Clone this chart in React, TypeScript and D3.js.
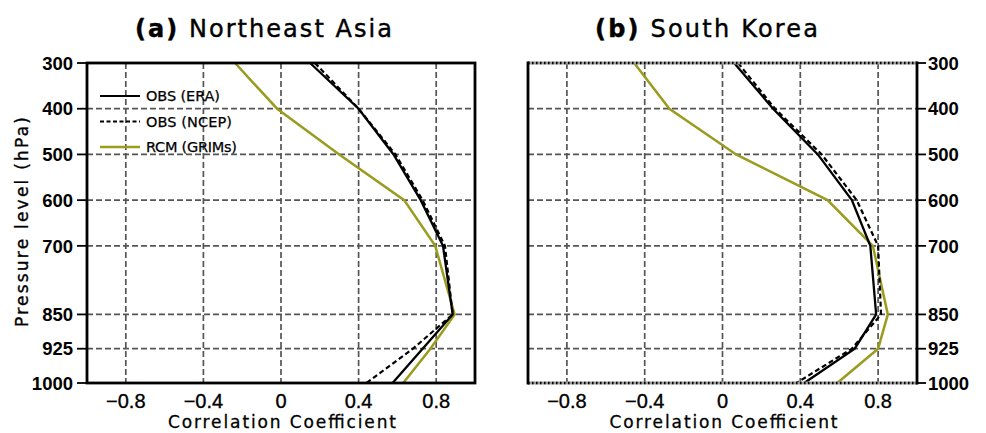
import React from "react";
import * as d3 from "d3";

const levels = [300, 400, 500, 600, 700, 850, 925, 1000];
const levelTicks = [300, 400, 500, 600, 700, 850, 925, 1000];
const gridLevels = [400, 500, 600, 700, 850, 925];
const corrTicks = [-0.8, -0.4, 0, 0.4, 0.8];
const corrTickLabels = ["\u22120.8", "\u22120.4", "0", "0.4", "0.8"];

const neAsiaERA = [0.15, 0.4, 0.58, 0.72, 0.835, 0.885, 0.73, 0.575];
const neAsiaNCEP = [0.175, 0.4, 0.59, 0.73, 0.845, 0.885, 0.68, 0.44];
const neAsiaGRIMs = [-0.237, -0.02, 0.3, 0.635, 0.795, 0.895, 0.77, 0.63];

const koreaERA = [0.06, 0.26, 0.49, 0.665, 0.76, 0.79, 0.68, 0.42];
const koreaNCEP = [0.08, 0.27, 0.51, 0.69, 0.8, 0.815, 0.665, 0.38];
const koreaGRIMs = [-0.454, -0.273, 0.07, 0.54, 0.773, 0.85, 0.8, 0.59];

const seriesNames = ["OBS (ERA)", "OBS (NCEP)", "RCM (GRIMs)"];
const GREEN = "#9a9b1f";
const GRID = "#555";

type PanelProps = {
  x0: number;
  x1: number;
  era: number[];
  ncep: number[];
  grims: number[];
  side: "left" | "right";
  dottedFrame: boolean;
  legend: boolean;
};

const Y0 = 63;
const Y1 = 383;

function Panel({ x0, x1, era, ncep, grims, side, dottedFrame, legend }: PanelProps) {
  const x = d3.scaleLinear().domain([-1, 1]).range([x0, x1]);
  const y = d3.scaleLinear().domain([300, 1000]).range([Y0, Y1]);
  const mk = (vals: number[]) =>
    d3
      .line<number>()
      .x((d) => x(d))
      .y((_, i) => y(levels[i]))(vals) || "";

  return (
    <g>
      {corrTicks.map((t) => (
        <line key={"v" + t} x1={x(t)} x2={x(t)} y1={Y0} y2={Y1} stroke={GRID} strokeWidth={1.7} strokeDasharray="6,3" />
      ))}
      {gridLevels.map((l) => (
        <line key={"h" + l} x1={x0} x2={x1} y1={y(l)} y2={y(l)} stroke={GRID} strokeWidth={1.7} strokeDasharray="6,3" />
      ))}
      <path d={mk(grims)} fill="none" stroke={GREEN} strokeWidth={2.5} />
      <path d={mk(ncep)} fill="none" stroke="#000" strokeWidth={2.2} strokeDasharray="5,3" />
      <path d={mk(era)} fill="none" stroke="#000" strokeWidth={2.3} />
      {dottedFrame ? (
        <g>
          <line x1={x0} x2={x1} y1={Y0} y2={Y0} stroke="#999" strokeWidth={3} />
          <line x1={x0} x2={x1} y1={Y0} y2={Y0} stroke="#000" strokeWidth={2.4} strokeDasharray="1.5,2.5" />
          <line x1={x0} x2={x1} y1={Y1} y2={Y1} stroke="#999" strokeWidth={3} />
          <line x1={x0} x2={x1} y1={Y1} y2={Y1} stroke="#000" strokeWidth={2.4} strokeDasharray="1.5,2.5" />
          <line x1={x0} x2={x0} y1={Y0 - 1.5} y2={Y1 + 1.5} stroke="#000" strokeWidth={2.8} />
          <line x1={x1} x2={x1} y1={Y0 - 1.5} y2={Y1 + 1.5} stroke="#000" strokeWidth={2.8} />
        </g>
      ) : (
        <rect x={x0} y={Y0} width={x1 - x0} height={Y1 - Y0} fill="none" stroke="#000" strokeWidth={2.8} />
      )}
      {levelTicks.map((l) => {
        const yy = y(l);
        const tx = side === "left" ? x0 - 10 : x1 + 9;
        return (
          <g key={"yt" + l}>
            <line x1={side === "left" ? x0 : x1} x2={tx} y1={yy} y2={yy} stroke="#000" strokeWidth={1.8} />
            <text
              x={side === "left" ? x0 - 14 : x1 + 11}
              y={yy}
              dy="0.36em"
              textAnchor={side === "left" ? "end" : "start"}
              fontFamily="'Liberation Sans', Arial, sans-serif"
              fontWeight="bold"
              fontSize={18.5}
            >
              {l}
            </text>
          </g>
        );
      })}
      {corrTicks.map((t, i) => (
        <text
          key={"xt" + t}
          x={x(t)}
          y={408}
          textAnchor="middle"
          fontFamily="'Liberation Sans', Arial, sans-serif"
          fontSize={20}
          stroke="#000"
          strokeWidth={0.35}
        >
          {corrTickLabels[i]}
        </text>
      ))}
      <text
        x={(x0 + x1) / 2 + 1}
        y={428}
        textAnchor="middle"
        fontFamily="'DejaVu Sans', sans-serif"
        fontSize={17}
        textLength={228}
        lengthAdjust="spacing"
        stroke="#000"
        strokeWidth={0.3}
      >
        Correlation Coefficient
      </text>
      {legend && (
        <g fontFamily="'DejaVu Sans', sans-serif" fontSize={14.5} stroke="#000" strokeWidth={0.25}>
          {seriesNames.map((n, i) => {
            const ly = 96 + i * 25.5;
            return (
              <g key={n}>
                <line
                  x1={100}
                  x2={140}
                  y1={ly}
                  y2={ly}
                  stroke={i === 2 ? GREEN : "#000"}
                  strokeWidth={i === 2 ? 2.5 : 2.2}
                  strokeDasharray={i === 1 ? "4,2.5" : undefined}
                />
                <text x={146} y={ly} dy="0.36em" textLength={[74, 86, 91][i]} lengthAdjust="spacing">
                  {n}
                </text>
              </g>
            );
          })}
        </g>
      )}
    </g>
  );
}

export default function App() {
  return (
    <svg width={986} height={433} style={{ position: "absolute", left: 0, top: 0, background: "#fff" }}>
      <rect width={986} height={433} fill="#fff" />
      <text x={135} y={37} fontFamily="'DejaVu Sans', sans-serif" fontSize={24} textLength={257} lengthAdjust="spacing" stroke="#000" strokeWidth={0.4}>
        <tspan fontWeight="bold">(a)</tspan>
        <tspan>{"  Northeast Asia"}</tspan>
      </text>
      <text x={595} y={37} fontFamily="'DejaVu Sans', sans-serif" fontSize={24} textLength={223} lengthAdjust="spacing" stroke="#000" strokeWidth={0.4}>
        <tspan fontWeight="bold">(b)</tspan>
        <tspan>{"  South Korea"}</tspan>
      </text>
      <text
        transform="translate(28,222) rotate(-90)"
        textAnchor="middle"
        fontFamily="'DejaVu Sans', sans-serif"
        fontSize={17}
        textLength={210}
        lengthAdjust="spacing"
        stroke="#000"
        strokeWidth={0.35}
      >
        Pressure level (hPa)
      </text>
      <Panel x0={87} x1={475} era={neAsiaERA} ncep={neAsiaNCEP} grims={neAsiaGRIMs} side="left" dottedFrame={false} legend={true} />
      <Panel x0={528} x1={917} era={koreaERA} ncep={koreaNCEP} grims={koreaGRIMs} side="right" dottedFrame={true} legend={false} />
    </svg>
  );
}
